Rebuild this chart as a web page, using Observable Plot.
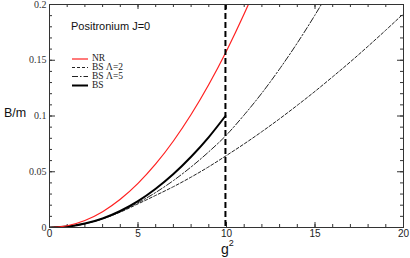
<!DOCTYPE html>
<html><head><meta charset="utf-8">
<script src="https://cdn.jsdelivr.net/npm/d3@7"></script>
<script src="https://cdn.jsdelivr.net/npm/@observablehq/plot@0.6"></script>
<style>body{margin:0;background:#fff}svg{display:block}</style>
</head><body><div id="chart"></div>
<script>
const nrX = [0,1,2,3,4,5,6,7,8,9,10,11,11.5];
const nrY = [0,0.0016,0.0063,0.0142,0.0253,0.0396,0.057,0.0776,0.1013,0.1282,0.1583,0.1916,0.2094];
const bsX = [0,1,2,3,4,5,6,7,8,9,9.94];
const bsY = [0,0.0008,0.0035,0.0081,0.0148,0.0236,0.0347,0.0479,0.0634,0.0811,0.1];
const l2X = [0,1,2,3,4,5,6,7,8,9,10,11,12,13,14,15,16,17,18,19,20];
const l2Y = [0,0.0008,0.0034,0.0078,0.0138,0.0212,0.0288,0.0366,0.0452,0.0545,0.0646,0.075,0.086,0.0975,0.1096,0.1221,0.1352,0.1486,0.1626,0.177,0.1918];
const l5X = [0,1,2,3,4,5,6,7,8,9,10,11,12,13,14,15,15.5];
const l5Y = [0,0.0008,0.0034,0.0079,0.0143,0.0222,0.0314,0.0421,0.0543,0.0679,0.083,0.101,0.1206,0.1422,0.1655,0.1906,0.2038];
const cutX = [9.94];
const xMajor = [0,5,10,15,20];
const xMinor = d3.range(0,21,1);
const yMajor = [0,0.05,0.1,0.15,0.2];
const yMinor = d3.range(0,0.2001,0.01);
const yLabels = ["0","0.05","0.1","0.15","0.2"];
const legendNames = ["NR","BS \u039B=2","BS \u039B=5","BS"];
const title = "Positronium J=0";

const W = 410, H = 258, mL = 49, mR = 7, mT = 4, mB = 31;
const fh = H - mT - mB, fw = W - mL - mR;
const pts = (xs, ys) => xs.map((x,i) => ({x, y: ys[i]}));
const frameC = "#333";

const plot = Plot.plot({
  width: W, height: H, marginLeft: mL, marginRight: mR, marginTop: mT, marginBottom: mB,
  x: {domain: [0,20], axis: null},
  y: {domain: [0,0.2], axis: null},
  style: {background: "#fff", overflow: "visible"},
  marks: [
    Plot.ruleX(xMinor, {insetTop: fh - 3, stroke: frameC}),
    Plot.ruleX(xMajor, {insetTop: fh - 5, stroke: frameC}),
    Plot.ruleX(xMinor, {insetBottom: fh - 3, stroke: frameC}),
    Plot.ruleX(xMajor, {insetBottom: fh - 5, stroke: frameC}),
    Plot.ruleY(yMinor, {insetRight: fw - 3, stroke: frameC}),
    Plot.ruleY(yMajor, {insetRight: fw - 6, stroke: frameC}),
    Plot.ruleY(yMinor, {insetLeft: fw - 3, stroke: frameC}),
    Plot.ruleY(yMajor, {insetLeft: fw - 6, stroke: frameC}),
    Plot.axisX(xMajor, {tickSize: 0, tickPadding: 2, label: null, fontSize: 10, fontFamily: "Liberation Sans, Arial, sans-serif", fill: "#222"}),
    Plot.axisY(yMajor, {tickSize: 0, tickPadding: 3, label: null, fontSize: 10, fontFamily: "Liberation Serif, Times New Roman, serif", fill: "#333", tickFormat: (d,i) => yLabels[i]}),
    Plot.line(pts(l2X,l2Y), {x:"x", y:"y", stroke:"#222", strokeWidth:1, strokeDasharray:"3,2", curve:"monotone-x", clip:true}),
    Plot.line(pts(l5X,l5Y), {x:"x", y:"y", stroke:"#222", strokeWidth:1, strokeDasharray:"6,2,1.5,2", curve:"monotone-x", clip:true}),
    Plot.line(pts(bsX,bsY), {x:"x", y:"y", stroke:"#000", strokeWidth:2, curve:"monotone-x", clip:true}),
    Plot.line(pts(nrX,nrY), {x:"x", y:"y", stroke:"#ff2020", strokeWidth:1.2, curve:"monotone-x", clip:true}),
    Plot.ruleX(cutX, {stroke:"#000", strokeWidth:2, strokeDasharray:"6,3"}),
    Plot.frame({stroke: frameC, strokeWidth: 1})
  ]
});
document.getElementById("chart").appendChild(plot);

const svg = d3.select(plot);
const addText = (x, y, str, size, family, fill) =>
  svg.append("text").attr("x", x).attr("y", y).attr("text-anchor", "start").attr("dominant-baseline", "middle")
    .attr("font-family", family).attr("font-size", size).attr("fill", fill).text(str);
const SANS = "Liberation Sans, Arial, sans-serif", SERIF = "Liberation Serif, Times New Roman, serif";
addText(71, 27, title, 11, SANS, "#111");
addText(4, 114, "B/m", 12.5, SANS, "#111");
const gl = svg.append("text").attr("x", 221).attr("y", 254).attr("text-anchor", "start")
  .attr("font-family", SANS).attr("font-size", 14).attr("fill", "#111");
gl.append("tspan").text("g");
gl.append("tspan").attr("font-size", 9).attr("dy", -8).text("2");
const legStyles = [
  {stroke:"#ff2020", w:1.2, dash:null},
  {stroke:"#222", w:1, dash:"3,2"},
  {stroke:"#222", w:1, dash:"6,2,1.5,2"},
  {stroke:"#000", w:2, dash:null}
];
const rowsY = [59, 67.5, 76.5, 85.5];
legendNames.forEach((name, i) => {
  const s = legStyles[i];
  const ln = svg.append("line").attr("x1", 72).attr("x2", 88).attr("y1", rowsY[i]).attr("y2", rowsY[i])
    .attr("stroke", s.stroke).attr("stroke-width", s.w);
  if (s.dash) ln.attr("stroke-dasharray", s.dash);
  addText(92, rowsY[i], name, 9.5, SERIF, "#222");
});
</script></body></html>
